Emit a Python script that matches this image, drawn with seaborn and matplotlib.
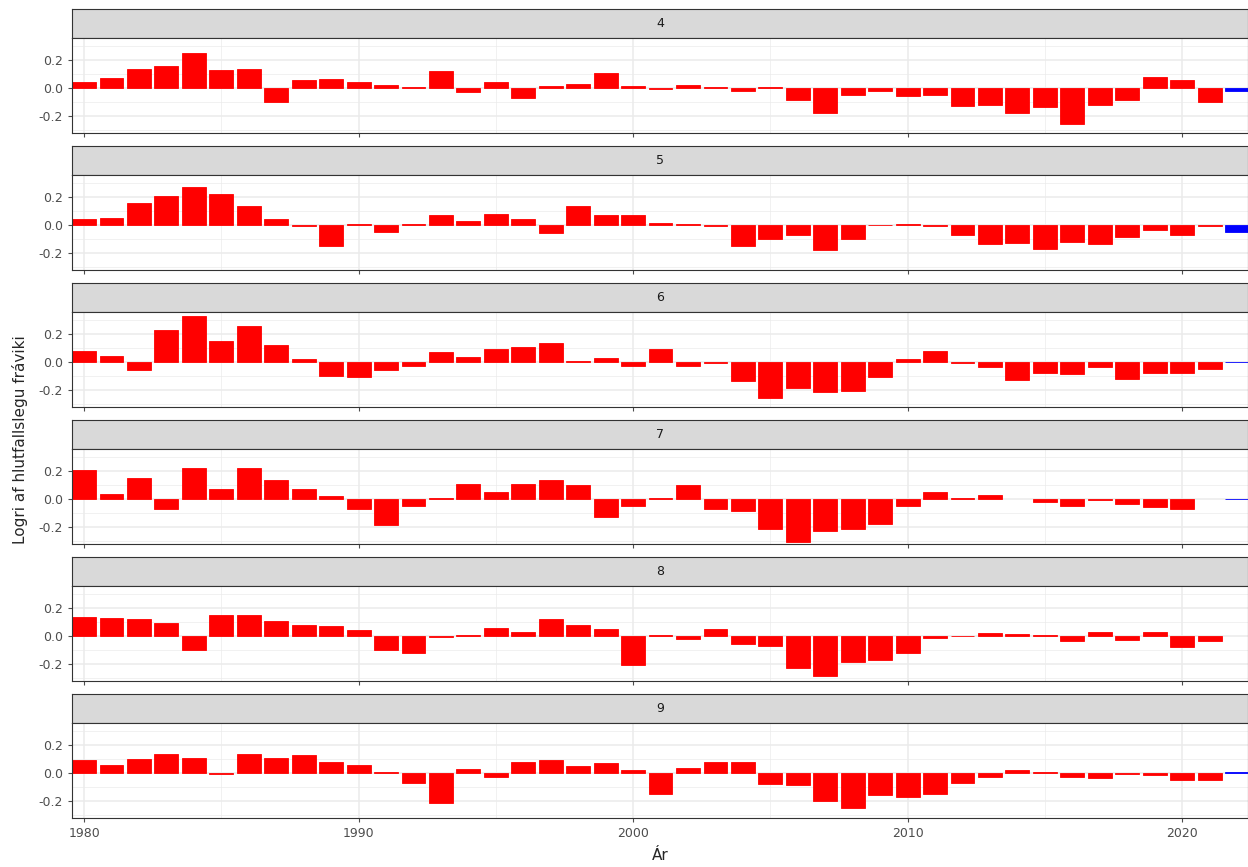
import matplotlib
matplotlib.use("Agg")
import matplotlib.pyplot as plt
import numpy as np
import seaborn as sns

sns.set_theme(style="white")
plt.rcParams['font.family'] = ['DejaVu Sans']

years = list(range(1980, 2023))
months = [4, 5, 6, 7, 8, 9]
# logri af hlutfallslegu fraviki, 1980..2022 (last year shown in blue)
m4 = [0.04, 0.07, 0.14, 0.16, 0.25, 0.13, 0.14, -0.10, 0.06, 0.065, 0.045, 0.02, 0.005, 0.12, -0.03,
      0.04, -0.07, 0.015, 0.03, 0.105, 0.015, -0.01, 0.02, 0.005, -0.025, 0.005, -0.09, -0.18, -0.05,
      -0.02, -0.06, -0.05, -0.13, -0.12, -0.18, -0.14, -0.26, -0.12, -0.09, 0.08, 0.06, -0.10, -0.02]
m5 = [0.04, 0.05, 0.16, 0.21, 0.27, 0.22, 0.14, 0.04, -0.01, -0.15, 0.005, -0.05, 0.005, 0.07, 0.03,
      0.08, 0.04, -0.06, 0.14, 0.07, 0.07, 0.015, 0.005, -0.005, -0.15, -0.10, -0.07, -0.18, -0.10,
      0.0, 0.005, -0.005, -0.07, -0.14, -0.13, -0.17, -0.12, -0.14, -0.09, -0.04, -0.07, -0.01, -0.05]
m6 = [0.08, 0.04, -0.06, 0.23, 0.33, 0.15, 0.26, 0.12, 0.02, -0.10, -0.11, -0.06, -0.03, 0.07, 0.035,
      0.09, 0.11, 0.14, 0.005, 0.03, -0.03, 0.09, -0.03, -0.01, -0.14, -0.26, -0.19, -0.22, -0.21,
      -0.11, 0.02, 0.08, -0.01, -0.04, -0.13, -0.08, -0.09, -0.04, -0.12, -0.08, -0.08, -0.05, 0.002]
m7 = [0.21, 0.035, 0.15, -0.07, 0.22, 0.07, 0.22, 0.14, 0.07, 0.02, -0.07, -0.19, -0.05, 0.005, 0.11,
      0.05, 0.11, 0.14, 0.10, -0.13, -0.05, 0.005, 0.10, -0.07, -0.09, -0.22, -0.31, -0.23, -0.22,
      -0.18, -0.05, 0.05, 0.005, 0.03, np.nan, -0.02, -0.05, -0.01, -0.04, -0.06, -0.07, np.nan, 0.002]
m8 = [0.14, 0.13, 0.12, 0.09, -0.10, 0.15, 0.15, 0.11, 0.08, 0.07, 0.04, -0.10, -0.12, -0.01, 0.005,
      0.06, 0.03, 0.12, 0.08, 0.05, -0.21, 0.005, -0.02, 0.05, -0.06, -0.07, -0.23, -0.29, -0.19,
      -0.17, -0.12, -0.015, 0.0, 0.02, 0.015, 0.01, -0.04, 0.03, -0.03, 0.03, -0.08, -0.04, np.nan]
m9 = [0.09, 0.06, 0.10, 0.14, 0.11, -0.01, 0.14, 0.11, 0.13, 0.08, 0.06, 0.005, -0.07, -0.22, 0.03,
      -0.03, 0.08, 0.09, 0.05, 0.07, 0.02, -0.15, 0.035, 0.08, 0.08, -0.08, -0.09, -0.20, -0.25,
      -0.16, -0.17, -0.15, -0.07, -0.03, 0.02, 0.005, -0.03, -0.04, -0.005, -0.015, -0.05, -0.05, 0.005]
series = [m4, m5, m6, m7, m8, m9]
colors = ['red'] * (len(years) - 1) + ['blue']

W, H = 1248, 867
fig = plt.figure(figsize=(W / 100, H / 100), dpi=100)
left, right = 72 / W, 1.0
for k, (mon, vals) in enumerate(zip(months, series)):
    st, pt, pb = 9 + 137 * k, 38 + 137 * k, 133 + 137 * k
    sax = fig.add_axes([left, 1 - pt / H, right - left, (pt - st) / H])
    sax.set_facecolor('#D9D9D9')
    sax.set_xticks([]); sax.set_yticks([])
    for s in sax.spines.values():
        s.set_color('#333333'); s.set_linewidth(0.8)
    sax.text(0.5, 0.5, str(mon), ha='center', va='center', fontsize=9, color='#1A1A1A',
             transform=sax.transAxes)

    ax = fig.add_axes([left, 1 - pb / H, right - left, (pb - pt) / H])
    ax.set_axisbelow(True)
    ax.set_xticks([1980, 1990, 2000, 2010, 2020])
    ax.set_xticks([1985, 1995, 2005, 2015], minor=True)
    ax.set_yticks([-0.2, 0.0, 0.2])
    ax.set_yticks([-0.3, -0.1, 0.1, 0.3], minor=True)
    ax.grid(True, which='major', color='#EBEBEB', linewidth=1.1)
    ax.grid(True, which='minor', color='#EBEBEB', linewidth=0.5)
    ax.bar(years, vals, width=0.87, color=colors, edgecolor=colors, linewidth=0.6)
    ax.set_xlim(1979.56, 2022.4)
    ax.set_ylim(-0.325, 0.36)
    for s in ax.spines.values():
        s.set_color('#333333'); s.set_linewidth(0.8)
    ax.tick_params(axis='both', labelsize=9, colors='#4D4D4D', length=3, width=0.8,
                   direction='out', left=True, bottom=True)
    ax.tick_params(which='minor', length=0)
    ax.yaxis.set_major_formatter(matplotlib.ticker.FormatStrFormatter('%.1f'))
    if k < 5:
        ax.set_xticklabels([])

fig.text(20 / W, 1 - 440 / H, 'Logri af hlutfallslegu fráviki', rotation=90,
         ha='center', va='center', fontsize=11)
fig.text((left + right) / 2, 1 - 856 / H, 'Ár', ha='center', va='center', fontsize=11)
fig.savefig('out.png', dpi=100)
